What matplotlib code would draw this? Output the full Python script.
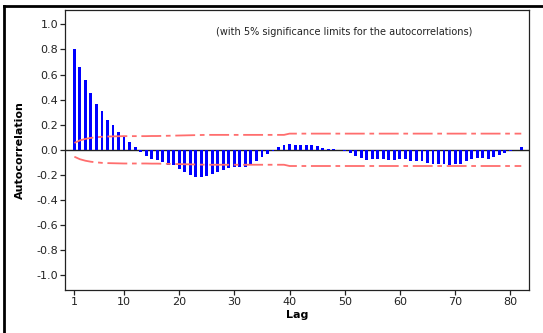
import numpy as np
import matplotlib
matplotlib.use("Agg")
import matplotlib.pyplot as plt
from matplotlib.lines import Line2D

# Autocorrelation values for lags 1..82
acf = [0.80, 0.657, 0.555, 0.452, 0.367, 0.306, 0.237, 0.197, 0.141, 0.104,
       0.059, 0.02, -0.018, -0.048, -0.074, -0.08, -0.098, -0.12, -0.125, -0.154,
       -0.18, -0.204, -0.215, -0.218, -0.21, -0.194, -0.178, -0.157, -0.146, -0.138,
       -0.138, -0.14, -0.125, -0.093, -0.058, -0.034, -0.013, 0.026, 0.042, 0.045,
       0.037, 0.037, 0.037, 0.037, 0.03, 0.018, 0.01, 0.01, -0.005, -0.013,
       -0.026, -0.05, -0.066, -0.08, -0.074, -0.074, -0.071, -0.08, -0.08, -0.077,
       -0.077, -0.088, -0.093, -0.093, -0.109, -0.114, -0.114, -0.114, -0.125, -0.117,
       -0.112, -0.093, -0.077, -0.066, -0.066, -0.071, -0.058, -0.042, -0.024, -0.01,
       -0.005, 0.02]

# 5% significance limits (+/-) for each lag
conf = [0.055, 0.075, 0.087, 0.095, 0.100, 0.104, 0.106, 0.107, 0.108, 0.109,
        0.109, 0.109, 0.109, 0.109, 0.110, 0.110, 0.111, 0.112, 0.113, 0.114,
        0.115, 0.116, 0.117, 0.118, 0.119, 0.119, 0.119, 0.119, 0.119, 0.119,
        0.119, 0.119, 0.119, 0.119, 0.119, 0.119, 0.119, 0.119, 0.119, 0.129,
        0.129, 0.129, 0.129, 0.129, 0.129, 0.129, 0.129, 0.129, 0.129, 0.129,
        0.129, 0.129, 0.129, 0.129, 0.129, 0.129, 0.129, 0.129, 0.129, 0.129,
        0.129, 0.129, 0.129, 0.129, 0.129, 0.129, 0.129, 0.129, 0.129, 0.129,
        0.129, 0.129, 0.129, 0.129, 0.129, 0.129, 0.129, 0.129, 0.129, 0.129,
        0.129, 0.129]

xticks = [1, 10, 20, 30, 40, 50, 60, 70, 80]
yticks = [-1.0, -0.8, -0.6, -0.4, -0.2, 0.0, 0.2, 0.4, 0.6, 0.8, 1.0]
note = "(with 5% significance limits for the autocorrelations)"

lags = np.arange(1, len(acf) + 1)
conf = np.array(conf)

W, H = 543, 333
fig = plt.figure(figsize=(W / 100, H / 100), dpi=100)
fig.patch.set_facecolor("white")
ax = fig.add_axes([65 / W, 1 - 290 / H, (529 - 65) / W, (290 - 10) / H])

ax.bar(lags, acf, width=0.52, color="#0000ff", edgecolor="none", zorder=3)
ax.axhline(0, color="#222222", lw=1.0, zorder=2)

red = "#ff6e6e"
dash = (0, (11, 2.6, 2.6, 2.6))
ax.plot(lags, conf, color=red, lw=1.3, linestyle=dash, zorder=4)
ax.plot(lags, -conf, color=red, lw=1.3, linestyle=dash, zorder=4)

ax.set_xlim(-0.7, 83.4)
ax.set_ylim(-1.117, 1.114)
ax.set_xticks(xticks)
ax.set_xticklabels([str(t) for t in xticks])
ax.set_yticks(yticks)
ax.set_yticklabels([f"{t:.1f}" for t in yticks])
ax.tick_params(direction="out", length=3.5, width=0.9, labelsize=8,
               color="#222222", labelcolor="#222222", pad=1.5)
for s in ax.spines.values():
    s.set_color("#222222")
    s.set_linewidth(0.9)

ax.set_xlabel("Lag", fontsize=8, fontweight="bold", labelpad=2)
ax.set_ylabel("Autocorrelation", fontsize=8, fontweight="bold", labelpad=8)

ax.text(216 / W, 1 - 32 / H, note, transform=fig.transFigure, fontsize=7,
        ha="left", va="center", color="#222222")

# outer frame (top and left edges visible)
fig.add_artist(Line2D([4 / W, 1.0], [1 - 5.5 / H, 1 - 5.5 / H],
                      transform=fig.transFigure, color="black", lw=2.0))
fig.add_artist(Line2D([4 / W, 4 / W], [0, 1 - 5.5 / H],
                      transform=fig.transFigure, color="black", lw=2.0))

fig.savefig("out.png", dpi=100)
